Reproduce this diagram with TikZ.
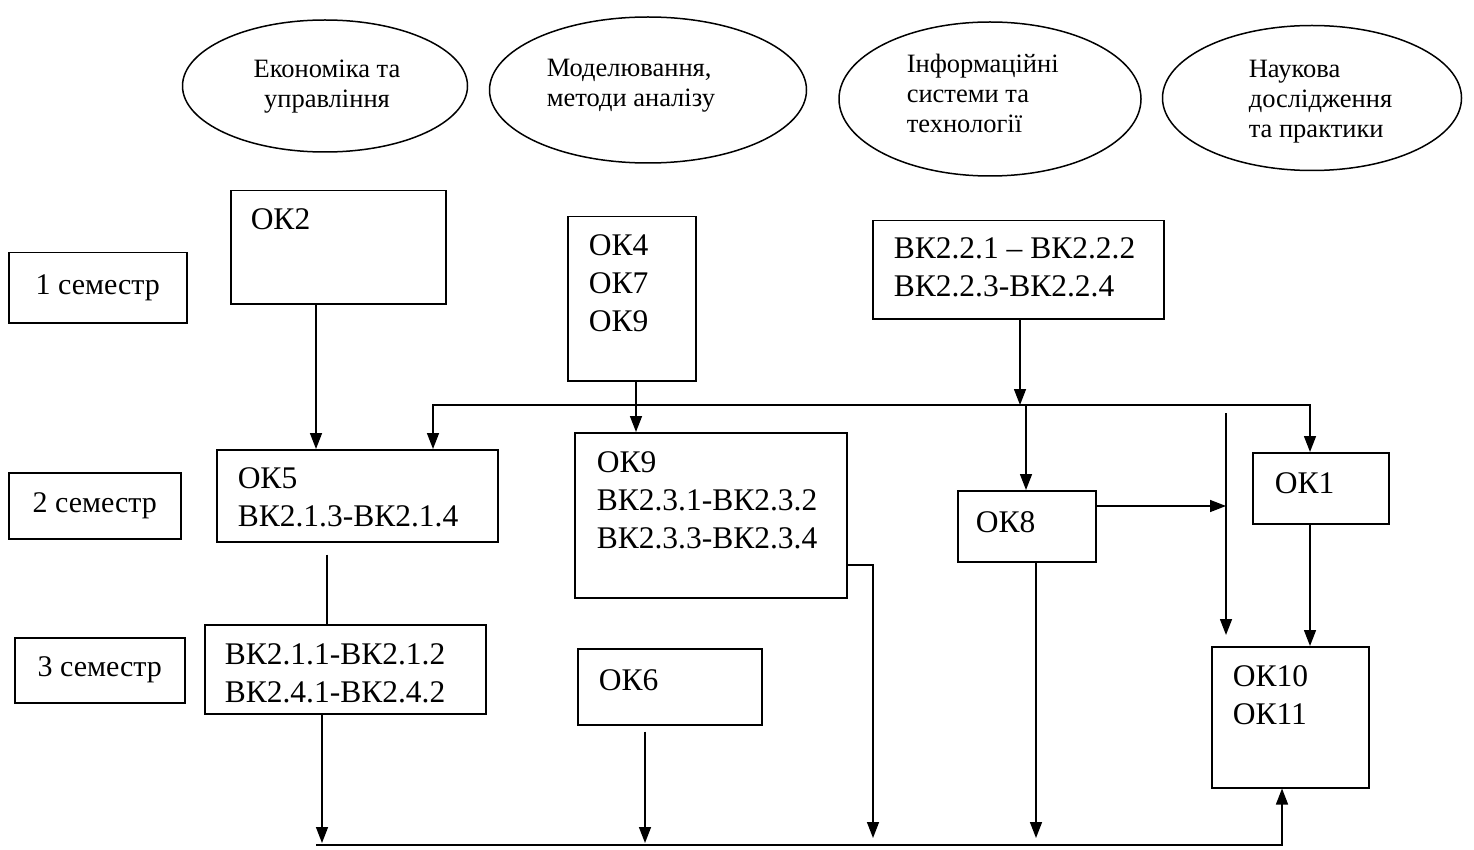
\documentclass[tikz,border=0pt]{standalone}
\usepackage{fontspec}
\setmainfont{Liberation Serif}
\usetikzlibrary{arrows.meta,shapes.geometric,calc}
\begin{document}
\begin{tikzpicture}[x=1pt,y=-1pt,
  line width=1.5pt,
  boxnode/.style={draw, rectangle, inner sep=0pt, anchor=north west},
  ell/.style={draw, ellipse, inner sep=0pt},
  btxt/.style={font=\fontsize{31.5}{38}\selectfont, align=left, inner sep=0pt, anchor=base west},
  stxt/.style={font=\fontsize{30}{34}\selectfont, inner sep=0pt},
  etxt/.style={font=\fontsize{26.5}{30}\selectfont, inner sep=0pt, align=left, anchor=base west},
  arr/.style={-{Triangle[length=16pt,width=12pt]}},
  darr/.style={{Triangle[length=16pt,width=12pt]}-{Triangle[length=16pt,width=12pt]}}
]
\useasboundingbox (0,0) rectangle (1474,850);

% ellipses
\node[ell, minimum width=285pt, minimum height=132pt] (e1) at (325,86) {};
\node[etxt, align=center, anchor=base] (t1) at (327,108) {Економіка та\\управління};
\node[ell, minimum width=317pt, minimum height=146pt] (e2) at (648,90) {};
\node[etxt] (t2) at (546,107) {Моделювання,\\методи аналізу};
\node[ell, minimum width=302pt, minimum height=154pt] (e3) at (990,99) {};
\node[etxt] (t3) at (906,133) {Інформаційні\\системи та\\технології};
\node[ell, minimum width=299pt, minimum height=145pt] (e4) at (1312,98) {};
\node[etxt] (t4) at (1248,138) {Наукова\\дослідження\\та практики};

% semester boxes
\node[boxnode, minimum width=178pt, minimum height=70pt] (s1) at (8,252) {};
\node[stxt] (ts1) at (s1.center) {1 семестр};
\node[boxnode, minimum width=172pt, minimum height=66pt] (s2) at (8,472) {};
\node[stxt] (ts2) at (s2.center) {2 семестр};
\node[boxnode, minimum width=170pt, minimum height=65pt] (s3) at (14,637) {};
\node[stxt] (ts3) at (s3.center) {3 семестр};

% course boxes
\node[boxnode, minimum width=215pt, minimum height=113pt] (ok2) at (230,190) {};
\node[btxt] (tok2) at (250,230) {ОК2};

\node[boxnode, minimum width=128pt, minimum height=164pt] (ok4) at (567,216) {};
\node[btxt] (tok4) at (588,331) {ОК4\\ОК7\\ОК9};

\node[boxnode, minimum width=291pt, minimum height=98pt] (vk22) at (872,220) {};
\node[btxt] (tvk22) at (893,296) {ВК2.2.1 – ВК2.2.2\\ВК2.2.3-ВК2.2.4};

\node[boxnode, minimum width=281pt, minimum height=92pt] (ok5) at (216,449) {};
\node[btxt] (tok5) at (237,526) {ОК5\\ВК2.1.3-ВК2.1.4};

\node[boxnode, minimum width=272pt, minimum height=165pt] (ok9) at (574,432) {};
\node[btxt] (tok9) at (596,548) {ОК9\\ВК2.3.1-ВК2.3.2\\ВК2.3.3-ВК2.3.4};

\node[boxnode, minimum width=138pt, minimum height=71pt] (ok8) at (957,490) {};
\node[btxt] (tok8) at (975,532) {ОК8};

\node[boxnode, minimum width=136pt, minimum height=71pt] (ok1) at (1252,452) {};
\node[btxt] (tok1) at (1274,493) {ОК1};

\node[boxnode, minimum width=281pt, minimum height=89pt] (vk21) at (204,624) {};
\node[btxt] (tvk21) at (224,702) {ВК2.1.1-ВК2.1.2\\ВК2.4.1-ВК2.4.2};

\node[boxnode, minimum width=184pt, minimum height=76pt] (ok6) at (577,648) {};
\node[btxt] (tok6) at (598,690) {ОК6};

\node[boxnode, minimum width=157pt, minimum height=141pt] (ok10) at (1211,646) {};
\node[btxt] (tok10) at (1232,724) {ОК10\\ОК11};

% guide coordinates
\coordinate (gA) at (316,0);
\coordinate (gB) at (433,405);
\coordinate (gC) at (636,0);
\coordinate (gD) at (1020,0);
\coordinate (gE) at (1026,0);
\coordinate (gF) at (1226,413);
\coordinate (gG) at (1310,405);
\coordinate (gH) at (327,0);
\coordinate (gI) at (322,843);
\coordinate (gJ) at (645,0);
\coordinate (gK) at (873,565);
\coordinate (gK2) at (873,838);
\coordinate (gL) at (1036,838);
\coordinate (gM) at (1282,845);
\coordinate (bl) at (316,845);
\coordinate (r8) at (0,506);

% connectors
\draw[arr] (ok2.south -| gA) -- (ok5.north -| gA);
\draw[darr] (ok5.north -| gB) -- (gB) -- (gG) -- (ok1.north -| gG);
\draw[arr] (ok4.south -| gC) -- (ok9.north -| gC);
\draw[arr] (vk22.south -| gD) -- (gD |- gB);
\draw[arr] (gE |- gB) -- (ok8.north -| gE);
\draw[arr, shorten >=11pt] (gF) -- (gF |- ok10.north);
\draw[arr] (ok8.east |- r8) -- (gF |- r8);
\draw[arr] (ok1.south -| gG) -- (ok10.north -| gG);
\draw[shorten <=12pt] (ok5.south -| gH) -- (vk21.north -| gH);
\draw[arr] (vk21.south -| gI) -- (gI);
\draw[arr, shorten <=6pt] (ok6.south -| gJ) -- (gJ |- gI);
\draw[arr] (ok9.east |- gK) -- (gK) -- (gK2);
\draw[arr] (ok8.south -| gL) -- (gL);
\draw[arr] (bl) -- (gM) -- (gM |- ok10.south);
\end{tikzpicture}
\end{document}
